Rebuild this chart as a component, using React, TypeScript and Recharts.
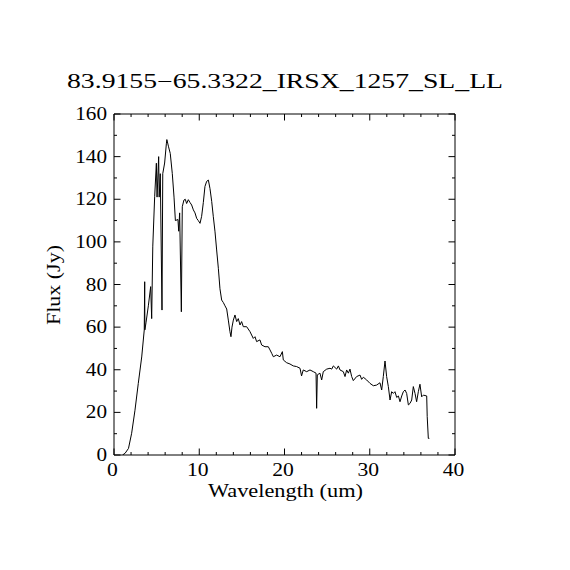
import { LineChart, Line, XAxis, YAxis, Label } from "recharts";

// wavelength (um) and flux (Jy)
const wavelengths = [
  1.0, 1.3, 1.7, 2.07, 2.46, 2.85, 3.25, 3.55, 3.6, 3.62, 3.75, 4.03, 4.3, 4.42,
  4.55, 4.77, 4.97, 5.05, 5.24, 5.3, 5.43, 5.63, 5.72, 5.94, 6.14, 6.2, 6.4, 6.6,
  6.84, 7.04, 7.2, 7.5, 7.59, 7.7, 7.9, 8.01, 8.2, 8.36, 8.52, 8.72, 8.91, 9.11,
  9.31, 9.5, 9.7, 9.89, 10.09, 10.28, 10.48, 10.67, 10.87, 11.07, 11.26, 11.46,
  11.65, 11.85, 12.04, 12.24, 12.43, 12.63, 12.83, 13.02, 13.22, 13.41, 13.6,
  13.72, 13.84, 14.0, 14.19, 14.39, 14.58, 14.78, 14.97, 15.17, 15.56, 15.95,
  16.34, 16.54, 16.73, 17.12, 17.32, 17.71, 18.1, 18.3, 18.5, 18.69, 19.08, 19.47,
  19.75, 19.86, 20.25, 20.64, 21.03, 21.42, 21.82, 22.0, 22.2, 22.6, 22.99, 23.38,
  23.7, 23.77, 23.85, 24.16, 24.36, 24.55, 24.95, 25.34, 25.54, 25.73, 26.12,
  26.32, 26.51, 26.9, 27.1, 27.29, 27.49, 27.68, 27.88, 28.07, 28.46, 28.86, 29.05,
  29.25, 29.64, 30.03, 30.42, 30.8, 31.2, 31.4, 31.59, 31.79, 31.98, 32.18, 32.38,
  32.57, 32.77, 32.96, 33.16, 33.36, 33.55, 33.75, 33.94, 34.14, 34.33, 34.53,
  34.72, 34.92, 35.11, 35.31, 35.5, 35.7, 35.89, 36.09, 36.29, 36.68, 36.74, 36.87,
  36.99,
];
const fluxes = [
  0, 0.8, 3.1, 10.2, 21, 33.6, 46, 58.7, 81.3, 58.7, 62, 70, 79, 64,
  98, 121.2, 136.9, 121, 140, 121, 132, 68, 132, 137, 146, 148, 144.6, 141.5,
  132, 121, 110, 110.5, 105, 113.6, 67.2, 116.5, 119.6, 120, 118, 119.8, 118.5, 117.3,
  115, 113.6, 111, 110, 108.7, 112, 118.5, 126, 128.4, 129, 125, 119,
  111.8, 104.7, 96.2, 87.6, 78, 72.7, 71.5, 70, 68.5, 63.3, 57.9,
  55.5, 60, 63.3, 65.7, 62.6, 64, 61, 62.6, 60.2, 60.2, 57.9,
  54.7, 55.5, 53.2, 54, 51.6, 50.8, 50.8, 49.3, 47.7, 46.1, 46.9, 46.1,
  48.5, 44.6, 43.3, 42.7, 41.8, 41.5, 40.7, 37.1, 39.9, 39.1, 39.9, 39.1,
  38.4, 21.9, 37.6, 38.4, 35.2, 39.1, 40.3, 40.7, 40.3, 41.8, 40.3,
  41.8, 39.9, 39.1, 36.8, 39.9, 38.4, 40.3, 36.8, 34.9, 36.8, 37.5, 35.5,
  36.5, 35.2, 33.6, 32.5, 32.8, 33.9, 30.5, 36.8, 44.1, 36.8, 32.1, 25.8,
  29.7, 28.9, 29.7, 27, 27.7, 25, 27.7, 29.7, 30.5, 28.9, 23.5,
  24.2, 25.8, 32.1, 28.9, 25, 29.7, 33.2, 27.3, 28.1, 27.7, 18, 7.8,
  7.8,
];

const xTicks = [0, 2, 4, 6, 8, 10, 12, 14, 16, 18, 20, 22, 24, 26, 28, 30, 32, 34, 36, 38, 40];
const yTicks = [0, 10, 20, 30, 40, 50, 60, 70, 80, 90, 100, 110, 120, 130, 140, 150, 160];

const title = "83.9155\u221265.3322_IRSX_1257_SL_LL";
const xTitle = "Wavelength (um)";
const yTitle = "Flux (Jy)";

const data = wavelengths.map((w, i) => ({ w, f: fluxes[i] }));

const FONT = "'Liberation Serif', 'DejaVu Serif', serif";
const MAJOR = 6.5;
const MINOR = 3;

function BottomTick({ x, y, payload }: any) {
  const major = payload.value % 10 === 0;
  const label = String(payload.value);
  return (
    <g>
      <line x1={x} y1={y} x2={x} y2={y - (major ? MAJOR : MINOR)} stroke="#000" />
      {major && (
        <text
          x={x - 1.5}
          y={y + 21}
          textAnchor="middle"
          fontFamily={FONT}
          fontSize={18}
          textLength={label.length * 10.8}
          lengthAdjust="spacingAndGlyphs"
          fill="#000"
        >
          {label}
        </text>
      )}
    </g>
  );
}

function TopTick({ x, y, payload }: any) {
  const major = payload.value % 10 === 0;
  return <line x1={x} y1={y} x2={x} y2={y + (major ? MAJOR : MINOR)} stroke="#000" />;
}

function LeftTick({ x, y, payload }: any) {
  const major = payload.value % 20 === 0;
  const label = String(payload.value);
  return (
    <g>
      <line x1={x} y1={y} x2={x + (major ? MAJOR : MINOR)} y2={y} stroke="#000" />
      {major && (
        <text
          x={x - 7}
          y={y + 6}
          textAnchor="end"
          fontFamily={FONT}
          fontSize={18}
          textLength={label.length * 10.6}
          lengthAdjust="spacingAndGlyphs"
          fill="#000"
        >
          {label}
        </text>
      )}
    </g>
  );
}

function RightTick({ x, y, payload }: any) {
  const major = payload.value % 20 === 0;
  return <line x1={x} y1={y} x2={x - (major ? MAJOR : MINOR)} y2={y} stroke="#000" />;
}

export default function App() {
  return (
    <div style={{ position: "absolute", left: 0, top: 0, background: "#fff" }}>
      <LineChart width={570} height={570} data={data} margin={{ top: 84, right: 65, bottom: 85, left: 64 }}>
        <XAxis
          dataKey="w"
          type="number"
          domain={[0, 40]}
          ticks={xTicks}
          interval={0}
          allowDataOverflow
          height={30}
          tickSize={0}
          tickMargin={0}
          tickLine={false}
          axisLine={{ stroke: "#000" }}
          tick={<BottomTick />}
        >
          <Label
            content={() => (
              <text
                x={285.5}
                y={497}
                textAnchor="middle"
                fontFamily={FONT}
                fontSize={18}
                textLength={155}
                lengthAdjust="spacingAndGlyphs"
                fill="#000"
              >
                {xTitle}
              </text>
            )}
          />
        </XAxis>
        <XAxis
          xAxisId="top"
          dataKey="w"
          type="number"
          orientation="top"
          domain={[0, 40]}
          ticks={xTicks}
          interval={0}
          allowDataOverflow
          height={30}
          tickSize={0}
          tickMargin={0}
          tickLine={false}
          axisLine={{ stroke: "#000" }}
          tick={<TopTick />}
        >
          <Label
            content={() => (
              <text
                x={285}
                y={88}
                textAnchor="middle"
                fontFamily={FONT}
                fontSize={20}
                textLength={436}
                lengthAdjust="spacingAndGlyphs"
                fill="#000"
              >
                {title}
              </text>
            )}
          />
        </XAxis>
        <YAxis
          type="number"
          domain={[0, 160]}
          ticks={yTicks}
          interval={0}
          allowDataOverflow
          width={50}
          tickSize={0}
          tickMargin={0}
          tickLine={false}
          axisLine={{ stroke: "#000" }}
          tick={<LeftTick />}
        >
          <Label
            content={() => (
              <text
                x={60}
                y={285}
                transform="rotate(-90 60 285)"
                textAnchor="middle"
                fontFamily={FONT}
                fontSize={18}
                textLength={80}
                lengthAdjust="spacingAndGlyphs"
                fill="#000"
              >
                {yTitle}
              </text>
            )}
          />
        </YAxis>
        <YAxis
          yAxisId="right"
          orientation="right"
          type="number"
          domain={[0, 160]}
          ticks={yTicks}
          interval={0}
          allowDataOverflow
          width={50}
          tickSize={0}
          tickMargin={0}
          tickLine={false}
          axisLine={{ stroke: "#000" }}
          tick={<RightTick />}
        />
        <Line
          dataKey="f"
          type="linear"
          stroke="#000"
          strokeWidth={1}
          dot={false}
          isAnimationActive={false}
        />
      </LineChart>
    </div>
  );
}
